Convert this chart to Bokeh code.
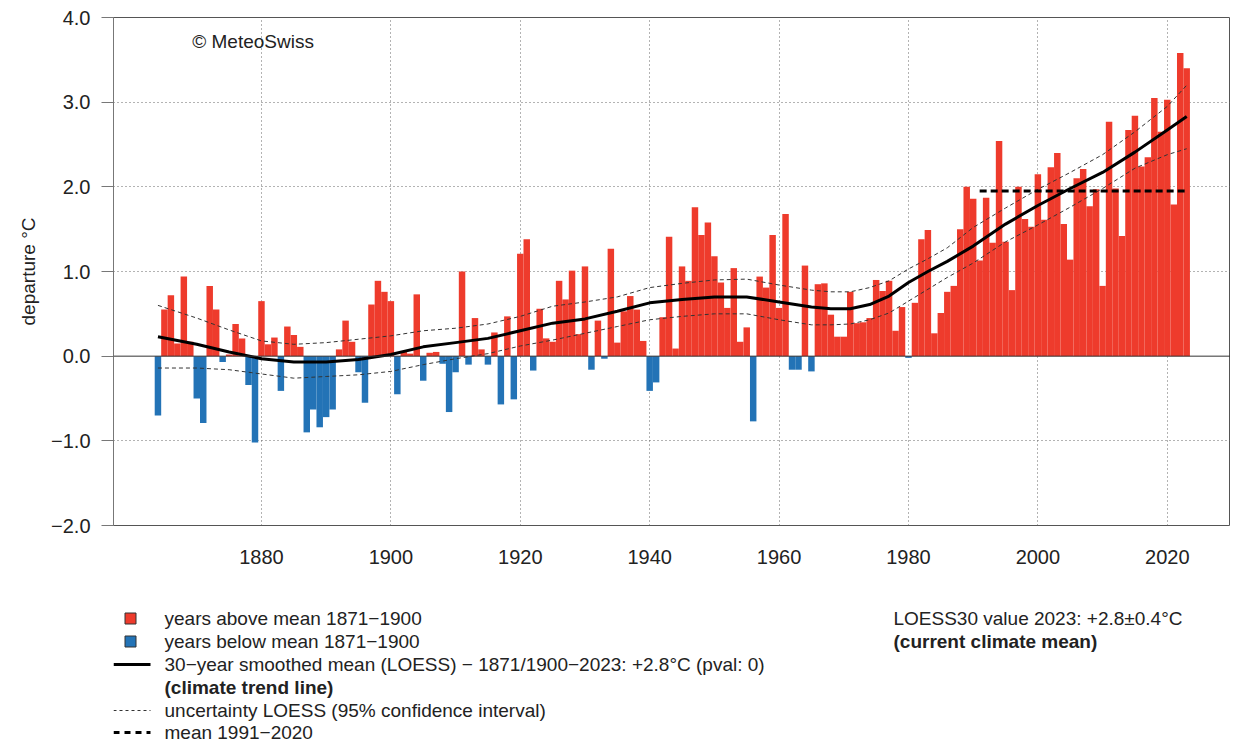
from bokeh.plotting import figure
from bokeh.models import Range1d, FixedTicker, Span, ColumnDataSource
from bokeh.layouts import column
from bokeh.embed import file_html
from bokeh.resources import INLINE
from bokeh.core.properties import value

# ---------------- data ----------------
years = list(range(1864, 2024))
anomaly = [
    -0.70, 0.55, 0.72, 0.15, 0.94, 0.17,                              # 1864-1869
    -0.50, -0.79, 0.83, 0.55, -0.07, 0.02, 0.38, 0.21, -0.34, -1.02,  # 1870s
    0.65, 0.14, 0.22, -0.41, 0.35, 0.25, 0.11, -0.90, -0.63, -0.84,   # 1880s
    -0.72, -0.63, 0.08, 0.42, 0.17, -0.19, -0.55, 0.61, 0.89, 0.76,   # 1890s
    0.65, -0.45, 0.05, 0.03, 0.73, -0.29, 0.04, 0.05, -0.09, -0.66,   # 1900s
    -0.19, 1.00, -0.10, 0.45, 0.08, -0.10, 0.28, -0.57, 0.47, -0.51,  # 1910s
    1.21, 1.38, -0.17, 0.56, 0.21, 0.17, 0.89, 0.67, 1.01, 0.26,      # 1920s
    1.06, -0.16, 0.42, -0.03, 1.27, 0.16, 0.53, 0.71, 0.55, 0.18,     # 1930s
    -0.41, -0.31, 0.46, 1.41, 0.09, 1.06, 0.89, 1.76, 1.43, 1.58,     # 1940s
    1.18, 0.87, 0.57, 1.04, 0.17, 0.34, -0.77, 0.94, 0.81, 1.43,      # 1950s
    0.57, 1.68, -0.16, -0.16, 1.07, -0.18, 0.85, 0.86, 0.49, 0.23,    # 1960s
    0.23, 0.76, 0.39, 0.40, 0.45, 0.90, 0.77, 0.89, 0.30, 0.58,       # 1970s
    -0.02, 0.63, 1.38, 1.49, 0.27, 0.51, 0.76, 0.83, 1.50, 2.00,      # 1980s
    1.86, 1.13, 1.87, 1.34, 2.54, 1.35, 0.78, 2.00, 1.62, 1.53,       # 1990s
    2.15, 1.61, 2.23, 2.40, 1.56, 1.14, 2.10, 2.21, 1.77, 1.97,       # 2000s
    0.83, 2.77, 1.98, 1.42, 2.67, 2.84, 2.24, 2.35, 3.05, 2.65,       # 2010s
    3.03, 1.79, 3.58, 3.40,                                           # 2020-2023
]

trend_years = [1864, 1870, 1875, 1880, 1885, 1890, 1895, 1900, 1905, 1910,
               1915, 1920, 1925, 1930, 1935, 1940, 1945, 1950, 1955, 1960,
               1965, 1968, 1971, 1974, 1977, 1980, 1983, 1986, 1990, 1995,
               2000, 2005, 2010, 2015, 2020, 2023]
trend = [0.23, 0.14, 0.05, -0.03, -0.07, -0.07, -0.04, 0.02, 0.11, 0.16,
         0.21, 0.30, 0.39, 0.44, 0.53, 0.63, 0.67, 0.70, 0.70, 0.64,
         0.58, 0.56, 0.56, 0.61, 0.71, 0.87, 1.00, 1.12, 1.30, 1.56,
         1.78, 1.98, 2.17, 2.41, 2.67, 2.83]
ci_upper = [0.60, 0.45, 0.31, 0.18, 0.14, 0.16, 0.20, 0.24, 0.30, 0.33,
            0.38, 0.47, 0.59, 0.64, 0.70, 0.81, 0.86, 0.90, 0.91, 0.84,
            0.78, 0.76, 0.76, 0.81, 0.89, 1.03, 1.15, 1.28, 1.52, 1.75,
            1.97, 2.17, 2.38, 2.65, 2.95, 3.20]
ci_lower = [-0.14, -0.14, -0.16, -0.21, -0.26, -0.24, -0.22, -0.18, -0.10, -0.03,
            0.03, 0.12, 0.19, 0.27, 0.35, 0.43, 0.47, 0.50, 0.50, 0.43,
            0.37, 0.37, 0.38, 0.43, 0.51, 0.65, 0.79, 0.93, 1.10, 1.35,
            1.55, 1.76, 1.98, 2.22, 2.38, 2.45]

mean_period = [1991, 2023]
mean_value = [1.95, 1.95]

x_ticks = [1880, 1900, 1920, 1940, 1960, 1980, 2000, 2020]
y_ticks = [-2, -1, 0, 1, 2, 3, 4]
y_tick_labels = ["\u22122.0", "\u22121.0", "0.0", "1.0", "2.0", "3.0", "4.0"]

legend_labels = [
    "years above mean 1871\u22121900",
    "years below mean 1871\u22121900",
    "30\u2212year smoothed mean (LOESS) \u2212 1871/1900\u22122023: +2.8\u00b0C (pval: 0)",
    "(climate trend line)",
    "uncertainty LOESS (95% confidence interval)",
    "mean 1991\u22122020",
]
right_labels = ["LOESS30 value 2023: +2.8\u00b10.4\u00b0C", "(current climate mean)"]

RED = "#ee3b2c"
BLUE = "#2373b6"
FONT = "Liberation Sans"

# ---------------- main plot ----------------
p = figure(width=1230, height=600,
           x_range=Range1d(1857.13, 2029.77), y_range=Range1d(-2, 4),
           output_backend="svg", toolbar_location=None,
           min_border_left=113, min_border_right=0,
           min_border_top=17, min_border_bottom=75)
p.background_fill_color = "white"
p.border_fill_color = "white"
p.outline_line_color = "#555555"
p.outline_line_width = 1

for g in (p.xgrid, p.ygrid):
    g.grid_line_color = "#666666"
    g.grid_line_dash = "1 3"
    g.grid_line_width = 1
p.xgrid.ticker = FixedTicker(ticks=x_ticks)
p.ygrid.ticker = FixedTicker(ticks=[-1, 1, 2, 3])

p.xaxis.ticker = FixedTicker(ticks=x_ticks)
p.xaxis.axis_line_color = None
p.xaxis.major_tick_out = 0
p.xaxis.major_tick_in = 0
p.xaxis.minor_tick_line_color = None
p.xaxis.major_label_standoff = 24
p.xaxis.major_label_text_font = FONT
p.xaxis.major_label_text_font_size = "20px"
p.xaxis.major_label_text_color = "#222222"

p.yaxis.ticker = FixedTicker(ticks=y_ticks)
p.yaxis.major_label_overrides = {t: s for t, s in zip(y_ticks, y_tick_labels)}
p.yaxis.axis_line_color = "#777777"
p.yaxis.major_tick_line_color = "#777777"
p.yaxis.major_tick_out = 12
p.yaxis.major_tick_in = 0
p.yaxis.minor_tick_line_color = None
p.yaxis.major_label_standoff = 11
p.yaxis.major_label_text_font = FONT
p.yaxis.major_label_text_font_size = "20px"
p.yaxis.major_label_text_color = "#222222"
p.yaxis.axis_label = "departure \u00b0C"
p.yaxis.axis_label_text_font = FONT
p.yaxis.axis_label_text_font_size = "19px"
p.yaxis.axis_label_text_font_style = "normal"
p.yaxis.axis_label_text_color = "#222222"
p.yaxis.axis_label_standoff = 9

bar_colors = [RED if v > 0 else BLUE for v in anomaly]
src = ColumnDataSource(dict(x=years, top=anomaly, c=bar_colors))
p.vbar(x="x", width=1.0, top="top", bottom=0, fill_color="c", line_color=None, source=src)

p.add_layout(Span(location=0, dimension="width", line_color="#333333", line_width=1))

p.line(trend_years, ci_upper, line_color="#333333", line_width=1, line_dash="4 3")
p.line(trend_years, ci_lower, line_color="#333333", line_width=1, line_dash="4 3")
p.line(trend_years, trend, line_color="black", line_width=3, line_join="round")
p.line(mean_period, mean_value, line_color="black", line_width=3, line_dash="7 4")

p.text(x=[1869.3], y=[3.72], text=["\u00a9 MeteoSwiss"], text_font=value(FONT),
       text_font_size="19px", text_baseline="middle", text_align="left", text_color="#222222")

# ---------------- legend block (data units = page pixels) ----------------
# the column layout aligns this frame with the main frame (x 113..1230)
q = figure(width=1230, height=144, x_range=Range1d(113, 1230), y_range=Range1d(144, 0),
           output_backend="svg", toolbar_location=None,
           x_axis_location=None, y_axis_location=None,
           min_border=0, min_border_left=113, min_border_right=0, min_border_top=0, min_border_bottom=0)
q.grid.visible = False
q.outline_line_color = None
q.background_fill_color = "white"
q.border_fill_color = "white"

row_y = [18, 41, 64, 87, 110, 132]
text_x = 164
LEG_SIZE = "19px"

q.scatter(x=[130, 130], y=row_y[:2], marker="square", size=11,
          fill_color=[RED, BLUE], line_color="#333333", line_width=1)
q.line([113, 150], [row_y[2], row_y[2]], line_color="black", line_width=3)
q.line([113, 150], [row_y[4], row_y[4]], line_color="#333333", line_width=1, line_dash="3 3")
q.line([113, 150], [row_y[5], row_y[5]], line_color="black", line_width=3, line_dash="6 5")

styles = ["normal", "normal", "normal", "bold", "normal", "normal"]
for lbl, yy, st in zip(legend_labels, row_y, styles):
    q.text(x=[text_x], y=[yy], text=[lbl], text_font=value(FONT), text_font_size=LEG_SIZE,
           text_font_style=st, text_baseline="middle", text_align="left", text_color="#222222")

q.text(x=[893], y=[row_y[0]], text=[right_labels[0]], text_font=value(FONT), text_font_size=LEG_SIZE,
       text_baseline="middle", text_align="left", text_color="#222222")
q.text(x=[893], y=[row_y[1]], text=[right_labels[1]], text_font=value(FONT), text_font_size=LEG_SIZE,
       text_font_style="bold", text_baseline="middle", text_align="left", text_color="#222222")

layout = column(p, q, spacing=0)
open("out.html", "w").write(file_html(layout, INLINE))
